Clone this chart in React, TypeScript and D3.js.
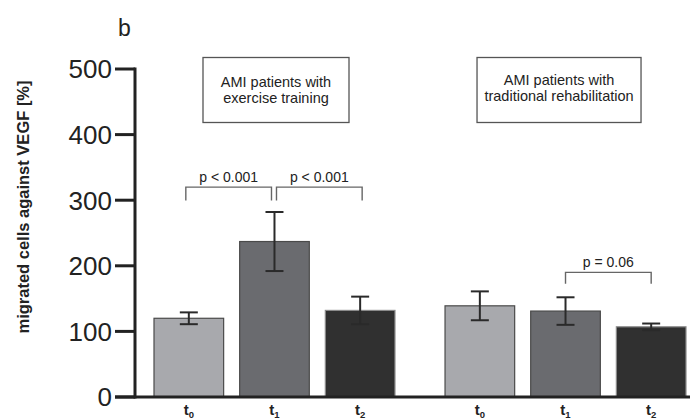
import { useRef, useEffect } from "react";
import * as d3 from "d3";

const groups = ["exercise", "traditional"];
const groupLabels = [
  ["AMI patients with", "exercise training"],
  ["AMI patients with", "traditional rehabilitation"],
];
const times = ["0", "1", "2"];
const exerciseMeans = [120, 237, 132];
const exerciseErrors = [9, 45, 21];
const traditionalMeans = [139, 131, 107];
const traditionalErrors = [22, 21, 5];
const yTicks = [0, 100, 200, 300, 400, 500];
// brackets: group, from bar, to bar, level, label
const brackets = [
  { group: 0, from: 0, to: 1, level: 320, label: "p < 0.001" },
  { group: 0, from: 1, to: 2, level: 320, label: "p < 0.001" },
  { group: 1, from: 1, to: 2, level: 190, label: "p = 0.06" },
];

const fills = ["#a8a9ad", "#6a6b6f", "#303030"];
const strokes = ["#4a4a4a", "#4a4a4a", "#8a8a8a"];

export default function App() {
  const ref = useRef<SVGSVGElement>(null);

  useEffect(() => {
    const svg = d3.select(ref.current);
    svg.selectAll("*").remove();
    const font = "'Liberation Sans', Arial, sans-serif";

    const means = [exerciseMeans, traditionalMeans];
    const errs = [exerciseErrors, traditionalErrors];

    const y = d3.scaleLinear().domain([0, 500]).range([397, 69]);
    const x0 = d3.scaleBand().domain(groups).range([154, 686]).paddingInner(0.172).paddingOuter(0);
    const x1 = d3.scaleBand().domain(times).range([0, x0.bandwidth()]).paddingInner(0.187).paddingOuter(0);

    const g = svg.append("g").attr("font-family", font);

    // bars
    groups.forEach((grp, gi) => {
      const gg = g.append("g").attr("transform", `translate(${x0(grp)},0)`);
      gg.selectAll("rect")
        .data(times)
        .join("rect")
        .attr("x", (t) => x1(t)!)
        .attr("y", (_, i) => y(means[gi][i]))
        .attr("width", x1.bandwidth())
        .attr("height", (_, i) => y(0) - y(means[gi][i]))
        .attr("fill", (_, i) => fills[i])
        .attr("stroke", (_, i) => strokes[i])
        .attr("stroke-width", 1.2);

      // error bars
      times.forEach((t, i) => {
        const cx = x1(t)! + x1.bandwidth() / 2;
        const hi = y(means[gi][i] + errs[gi][i]);
        const lo = y(means[gi][i] - errs[gi][i]);
        gg.append("line").attr("x1", cx).attr("x2", cx).attr("y1", hi).attr("y2", lo)
          .attr("stroke", "#2a2a2a").attr("stroke-width", 2);
        [hi, lo].forEach((yy) =>
          gg.append("line").attr("x1", cx - 9).attr("x2", cx + 9).attr("y1", yy).attr("y2", yy)
            .attr("stroke", "#2a2a2a").attr("stroke-width", 2)
        );

        // x labels
        const tx = gg.append("text").attr("x", cx).attr("y", 415).attr("text-anchor", "middle")
          .attr("font-size", 15).attr("font-weight", "bold").attr("fill", "#222");
        tx.append("tspan").text("t");
        tx.append("tspan").attr("font-size", 9.5).attr("dy", 3).text(t);
      });

      // legend box
      const bx = x0(grp)! + (gi === 0 ? 49 : 32);
      const bw = gi === 0 ? 146 : 164;
      g.append("rect").attr("x", bx).attr("y", 57.5).attr("width", bw).attr("height", 65)
        .attr("fill", "white").attr("stroke", "#555").attr("stroke-width", 1.3);
      groupLabels[gi].forEach((line, li) => {
        g.append("text").attr("x", bx + bw / 2).attr("y", 86.5 + li * 16 - (gi === 1 ? 2 : 0))
          .attr("text-anchor", "middle").attr("font-size", 14.5).attr("fill", "#222").text(line);
      });
    });

    // significance brackets
    brackets.forEach((b) => {
      const grp = groups[b.group];
      const c1 = x0(grp)! + x1(times[b.from])! + x1.bandwidth() / 2;
      const c2 = x0(grp)! + x1(times[b.to])! + x1.bandwidth() / 2;
      const adj = b.group === 0 ? (b.from === 0 ? -3 : 2) : 0;
      const xa = c1 + adj, xb = c2 + adj;
      const top = y(b.level);
      const leg = b.group === 0 ? 13.5 : 11.5;
      g.append("path")
        .attr("d", `M${xa},${top + leg}V${top}H${xb}V${top + leg}`)
        .attr("fill", "none").attr("stroke", "#666").attr("stroke-width", 1.4);
      g.append("text").attr("x", (xa + xb) / 2).attr("y", top - 5)
        .attr("text-anchor", "middle").attr("font-size", 14).attr("fill", "#222").text(b.label);
    });

    // axes
    g.append("line").attr("x1", 135).attr("x2", 135).attr("y1", y(500) - 1.5).attr("y2", y(0) + 1.5)
      .attr("stroke", "#222").attr("stroke-width", 3);
    g.append("line").attr("x1", 115).attr("x2", 690).attr("y1", y(0)).attr("y2", y(0))
      .attr("stroke", "#222").attr("stroke-width", 3);
    yTicks.forEach((v) => {
      g.append("line").attr("x1", 115).attr("x2", 135).attr("y1", y(v)).attr("y2", y(v))
        .attr("stroke", "#222").attr("stroke-width", 3);
      g.append("text").attr("x", 112).attr("y", y(v) + 9.3).attr("text-anchor", "end")
        .attr("font-size", 26).attr("fill", "#222").text(v);
    });

    g.append("text")
      .attr("transform", `translate(29,207) rotate(-90)`)
      .attr("text-anchor", "middle").attr("font-size", 16.5).attr("font-weight", "bold")
      .attr("fill", "#222").text("migrated cells against VEGF [%]");

    g.append("text").attr("x", 118).attr("y", 36).attr("font-size", 23).attr("fill", "#222").text("b");
  }, []);

  return (
    <svg ref={ref} width={690} height={420} style={{ position: "absolute", left: 0, top: 0, background: "white" }} />
  );
}
